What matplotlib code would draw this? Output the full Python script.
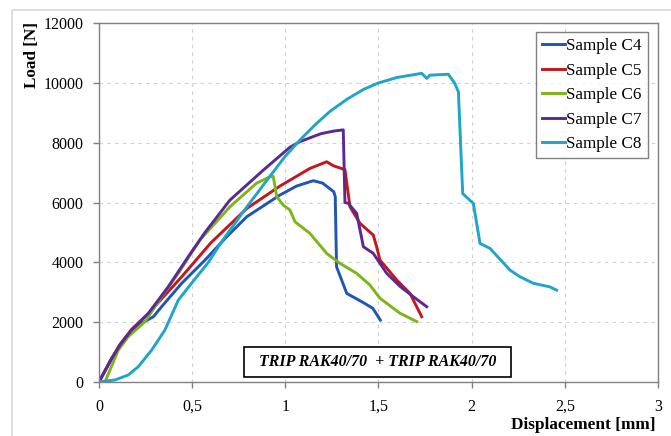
import matplotlib
matplotlib.use("Agg")
import matplotlib.pyplot as plt
from matplotlib.patches import Rectangle

plt.rcParams['font.family'] = ['Liberation Serif', 'DejaVu Serif']

# --- data ---
c4_x = [0, 0.06, 0.113, 0.175, 0.229, 0.292, 0.336, 0.444, 0.569, 0.68, 0.793, 0.971, 1.06,
        1.15, 1.20, 1.26, 1.268, 1.275, 1.33, 1.42, 1.47, 1.51]
c4_y = [0, 680, 1236, 1720, 1962, 2182, 2517, 3299, 4077, 4820, 5525, 6250, 6550,
        6730, 6650, 6360, 6200, 3850, 2960, 2650, 2460, 2070]

c5_x = [0, 0.06, 0.113, 0.175, 0.265, 0.444, 0.60, 0.793, 0.971, 1.132, 1.222, 1.258, 1.32,
        1.347, 1.401, 1.472, 1.49, 1.508, 1.598, 1.669, 1.705, 1.732]
c5_y = [0, 700, 1260, 1760, 2290, 3519, 4650, 5800, 6550, 7141, 7363, 7230, 7100,
        5858, 5303, 4913, 4522, 4077, 3409, 2964, 2517, 2182]

c6_x = [0.032, 0.104, 0.157, 0.247, 0.336, 0.426, 0.542, 0.703, 0.846, 0.918, 0.935, 0.954,
        0.989, 1.025, 1.052, 1.132, 1.222, 1.293, 1.383, 1.454, 1.508, 1.615, 1.705]
c6_y = [0, 1069, 1514, 2015, 2851, 3633, 4750, 5860, 6650, 6862, 6880, 6194,
        5916, 5748, 5357, 4969, 4300, 3967, 3633, 3242, 2800, 2300, 2020]

c7_x = [0, 0.06, 0.113, 0.175, 0.265, 0.372, 0.479, 0.569, 0.703, 0.882, 1.025, 1.08, 1.19,
        1.26, 1.311, 1.32, 1.338, 1.383, 1.419, 1.472, 1.544, 1.615, 1.687, 1.759]
c7_y = [0, 700, 1236, 1738, 2296, 3185, 4188, 5000, 6083, 7085, 7850, 8040, 8300,
        8390, 8430, 6000, 5972, 5638, 4522, 4300, 3633, 3200, 2851, 2517]

c8_x = [0, 0.086, 0.157, 0.211, 0.283, 0.354, 0.426, 0.497, 0.587, 0.665, 0.793, 0.92, 1.0,
        1.08, 1.16, 1.24, 1.33, 1.419, 1.5, 1.598, 1.732, 1.759, 1.776, 1.875, 1.91, 1.929, 1.952,
        2.009, 2.018, 2.045, 2.098, 2.206, 2.259, 2.331, 2.42, 2.456]
c8_y = [0, 67, 234, 512, 1069, 1738, 2741, 3300, 4000, 4750, 5850, 6900, 7550,
        8100, 8600, 9050, 9450, 9780, 10000, 10180, 10320, 10150, 10260, 10290, 9980, 9700, 6300,
        5970, 5640, 4630, 4470, 3740, 3520, 3300, 3180, 3070]

labels = ['Sample C4', 'Sample C5', 'Sample C6', 'Sample C7', 'Sample C8']
colors = ['#1f55b4', '#c4161c', '#7cb518', '#5a2a94', '#1ea5c8']

x_ticks = [0, 0.5, 1, 1.5, 2, 2.5, 3]
x_tick_labels = ['0', '0,5', '1', '1,5', '2', '2,5', '3']
y_ticks = [0, 2000, 4000, 6000, 8000, 10000, 12000]

fig = plt.figure(figsize=(6.71, 4.36), dpi=100)
ax = fig.add_axes([0.1475, 0.1239, 0.8331, 0.8231])

# light outer frame
fig.patches.append(Rectangle((12 / 671, -0.01), 1.0, 1 - 10 / 436 + 0.01, transform=fig.transFigure,
                             fill=False, edgecolor='#d8d8d8', linewidth=1.2))

series = [(c4_x, c4_y), (c5_x, c5_y), (c6_x, c6_y), (c7_x, c7_y), (c8_x, c8_y)]
for (xs, ys), lab, col in zip(series, labels, colors):
    ax.plot(xs, ys, color=col, linewidth=2.1, label=lab)

ax.set_xlim(0, 3)
ax.set_ylim(0, 12000)
ax.set_xticks(x_ticks)
ax.set_xticklabels(x_tick_labels)
ax.set_yticks(y_ticks)
ax.grid(True, linestyle=(0, (3, 4)), color='#cfcfcf', linewidth=0.8)
ax.set_axisbelow(True)
for s in ax.spines.values():
    s.set_color('#808080')
    s.set_linewidth(1.0)
ax.tick_params(axis='both', labelsize=11.5, colors='#808080', labelcolor='black', length=4, width=1)
ax.tick_params(axis='y', pad=7)
ax.tick_params(axis='x', pad=8)

ax.set_ylabel('Load [N]', fontsize=12.3, fontweight='bold')
ax.yaxis.set_label_coords(-0.105, 0.911)
ax.set_xlabel('Displacement [mm]', fontsize=12.4, fontweight='bold')
ax.xaxis.set_label_coords(0.866, -0.0975)

leg = ax.legend(loc='upper right', fontsize=12.3, frameon=True, fancybox=False,
                edgecolor='#606060', handlelength=1.35, handletextpad=0.1,
                labelspacing=0.5, borderpad=0.35, borderaxespad=0,
                bbox_to_anchor=(0.982, 0.975))
leg.get_frame().set_linewidth(1.0)

ax.text(1.495, 668, '  TRIP RAK40/70  + TRIP RAK40/70  ', fontsize=11.5, fontweight='bold',
        fontstyle='italic', ha='center', va='center',
        bbox=dict(boxstyle='square,pad=0.42', facecolor='white', edgecolor='black', linewidth=1.2))

fig.savefig('out.png', dpi=100)
